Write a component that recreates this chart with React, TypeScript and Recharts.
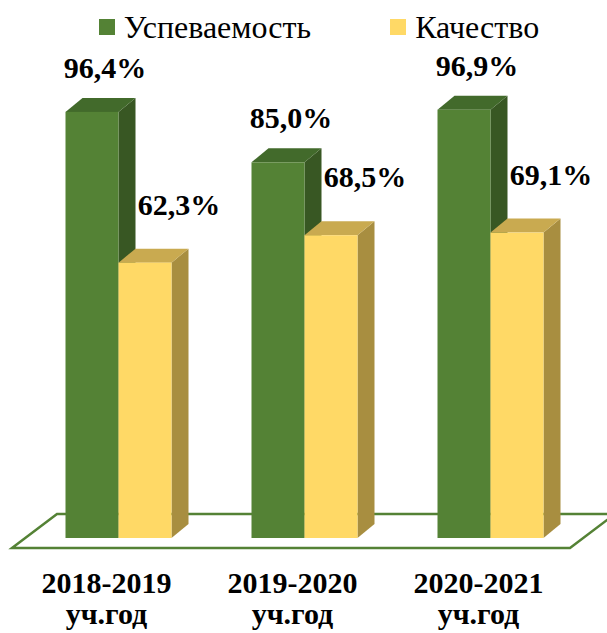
import React from 'react';
import {
  BarChart,
  Bar,
  XAxis,
  YAxis,
  Legend,
  LabelList,
  ReferenceArea,
} from 'recharts';

const years = ['2018-2019', '2019-2020', '2020-2021'];
const yearSuffix = 'уч.год';
const uspevaemost = [96.4, 85.0, 96.9];
const kachestvo = [62.3, 68.5, 69.1];

const data = years.map((year, i) => ({
  year,
  uspevaemost: uspevaemost[i],
  kachestvo: kachestvo[i],
}));

const FONT = 'Liberation Serif, Tinos, Times New Roman, DejaVu Serif, serif';
const DX = 17;
const DY = 14;

const GREEN = { front: '#548235', top: '#426a2b', side: '#385723' };
const YELLOW = { front: '#ffd966', top: '#c9aa50', side: '#a88e40' };

function fmt(v: number): string {
  return `${v.toFixed(1).replace('.', ',')}%`;
}

function makeBox(c: { front: string; top: string; side: string }) {
  return (props: any) => {
    const { x, y, width, height } = props;
    const r = x + width;
    const b = y + height;
    return (
      <g>
        <polygon
          points={`${r},${y} ${r + DX},${y - DY} ${r + DX},${b - DY} ${r},${b}`}
          fill={c.side}
        />
        <polygon
          points={`${x},${y} ${x + DX},${y - DY} ${r + DX},${y - DY} ${r},${y}`}
          fill={c.top}
        />
        <rect x={x} y={y} width={width} height={height} fill={c.front} />
      </g>
    );
  };
}

function Floor(props: any) {
  const { x, y, width, height } = props;
  const base = y + height;
  const pts = [
    [x - 13.5, base + 10],
    [x + width - 13.5, base + 10],
    [x + width + 31.5, base - 24],
    [x + 31.5, base - 24],
  ]
    .map((p) => p.join(','))
    .join(' ');
  return <polygon points={pts} fill="none" stroke="#548235" strokeWidth={2.5} />;
}

function YearTick(props: any) {
  const { x, y, payload } = props;
  const tx = x - 12;
  const common = {
    x: tx,
    textAnchor: 'middle' as const,
    style: { fontFamily: FONT },
    fontWeight: 'bold',
    fontSize: 30,
    fill: '#000',
  };
  return (
    <g>
      <text {...common} y={y + 47}>{payload.value}</text>
      <text {...common} y={y + 78}>{yearSuffix}</text>
    </g>
  );
}

function GreenLabel(props: any) {
  const { x, y, width, value } = props;
  return (
    <text
      x={x + width / 2 + 13}
      y={y - 34}
      textAnchor="middle"
      style={{ fontFamily: FONT }}
      fontWeight="bold"
      fontSize={30}
      fill="#000"
    >
      {fmt(value)}
    </text>
  );
}

function YellowLabel(props: any) {
  const { x, y, width, value } = props;
  return (
    <text
      x={x + width / 2 + 34}
      y={y - 48}
      textAnchor="middle"
      style={{ fontFamily: FONT }}
      fontWeight="bold"
      fontSize={30}
      fill="#000"
    >
      {fmt(value)}
    </text>
  );
}

const legendItems = [
  { name: 'Успеваемость', color: GREEN.front },
  { name: 'Качество', color: YELLOW.front },
];

function LegendContent() {
  return (
    <div
      style={{
        display: 'flex',
        justifyContent: 'center',
        alignItems: 'center',
        gap: 79,
        height: 50,
        paddingLeft: 31,
        fontFamily: FONT,
        fontSize: 32,
        color: '#000',
      }}
    >
      {legendItems.map((it) => (
        <div key={it.name} style={{ display: 'flex', alignItems: 'center' }}>
          <span
            style={{
              display: 'inline-block',
              width: 16,
              height: 16,
              background: it.color,
              marginRight: 9,
            }}
          />
          <span>{it.name}</span>
        </div>
      ))}
    </div>
  );
}

export default function App() {
  return (
    <div style={{ position: 'absolute', left: 0, top: 0, width: 607, height: 633, background: '#fff' }}>
      <BarChart
        width={607}
        height={633}
        data={data}
        margin={{ top: 46, right: 23.5, left: 25.5, bottom: 0 }}
        barGap={0}
        barCategoryGap={40}
      >
        <XAxis
          dataKey="year"
          height={95}
          axisLine={false}
          tickLine={false}
          tick={<YearTick />}
          interval={0}
        />
        <YAxis hide domain={[0, 100]} />
        <Legend
          verticalAlign="top"
          height={50}
          wrapperStyle={{ top: 2, left: 0, width: 607 }}
          content={<LegendContent />}
        />
        <ReferenceArea y1={0} y2={100} shape={<Floor />} ifOverflow="visible" />
        <Bar dataKey="uspevaemost" shape={makeBox(GREEN)} isAnimationActive={false}>
          <LabelList dataKey="uspevaemost" content={<GreenLabel />} />
        </Bar>
        <Bar dataKey="kachestvo" shape={makeBox(YELLOW)} isAnimationActive={false}>
          <LabelList dataKey="kachestvo" content={<YellowLabel />} />
        </Bar>
      </BarChart>
    </div>
  );
}
